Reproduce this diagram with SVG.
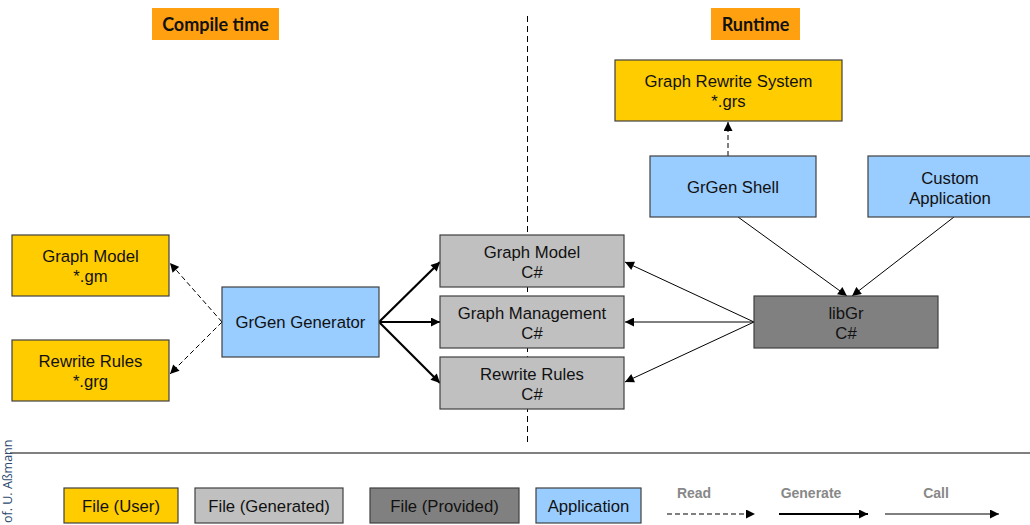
<svg xmlns="http://www.w3.org/2000/svg" width="1030" height="525" viewBox="0 0 1030 525">
<style>
.box{stroke:#404040;stroke-width:1.2}
.user{fill:#FFCC00}
.gen{fill:#C0C0C0}
.prov{fill:#808080}
.app{fill:#99CCFF}
.t{font-family:"Liberation Sans",Arial,sans-serif;font-size:16.7px;fill:#111;text-anchor:middle}
.hdr{font-family:Lato,"Liberation Sans",sans-serif;font-weight:bold;font-size:18px;fill:#111;text-anchor:middle}
.lg{font-family:"Liberation Sans",Arial,sans-serif;font-size:14px;font-weight:bold;fill:#888;text-anchor:middle}
.read{stroke:#000;stroke-width:1;fill:none;stroke-dasharray:5,3}
.gnr{stroke:#000;stroke-width:2.2;fill:none}
.call{stroke:#000;stroke-width:1;fill:none}
</style>
<defs>
<marker id="ah" viewBox="0 0 10 10" refX="10" refY="5" markerWidth="10" markerHeight="9" markerUnits="userSpaceOnUse" orient="auto"><path d="M0,0 L10,5 L0,10 z" fill="#000"/></marker>
</defs>
<rect width="1030" height="525" fill="#fff"/>
<g id="hdr-compile"><rect x="152" y="8" width="127" height="32" fill="#FFA010"/><text class="hdr" x="215.5" y="30.5">Compile time</text></g>
<g id="hdr-runtime"><rect x="711" y="8" width="89" height="32" fill="#FFA010"/><text class="hdr" x="755.5" y="30.5">Runtime</text></g>
<line x1="527.5" y1="16" x2="527.5" y2="446" stroke="#000" stroke-width="1" stroke-dasharray="6,4"/>
<line x1="10" y1="453" x2="1030" y2="453" stroke="#000" stroke-width="1"/>
<text transform="translate(11.5,523) rotate(-90)" font-family="'Open Sans','Liberation Sans',sans-serif" font-size="12.5" fill="#2E4A6E">of. U. Aßmann</text>

<g id="connectors">
<line class="read" x1="728" y1="156" x2="728" y2="122" marker-end="url(#ah)"/>
<line class="read" x1="222" y1="322" x2="170" y2="263" marker-end="url(#ah)"/>
<line class="read" x1="222" y1="322" x2="170" y2="374" marker-end="url(#ah)"/>
<line class="gnr" x1="379" y1="322" x2="440" y2="262" marker-end="url(#ah)"/>
<line class="gnr" x1="379" y1="322" x2="440" y2="322" marker-end="url(#ah)"/>
<line class="gnr" x1="379" y1="322" x2="440" y2="383" marker-end="url(#ah)"/>
<line class="call" x1="754" y1="322" x2="625" y2="262" marker-end="url(#ah)"/>
<line class="call" x1="754" y1="322" x2="625" y2="322" marker-end="url(#ah)"/>
<line class="call" x1="754" y1="322" x2="625" y2="382" marker-end="url(#ah)"/>
<line class="call" x1="738" y1="217" x2="847" y2="296" marker-end="url(#ah)"/>
<line class="call" x1="954" y1="217" x2="852" y2="296" marker-end="url(#ah)"/>
</g>

<g id="grs"><rect class="box user" x="615" y="60" width="227" height="61"/><text class="t" x="728.5" y="87">Graph Rewrite System</text><text class="t" x="728.5" y="107">*.grs</text></g>
<g id="shell"><rect class="box app" x="650" y="156" width="166" height="61"/><text class="t" x="733" y="193">GrGen Shell</text></g>
<g id="custom"><rect class="box app" x="868" y="156" width="164" height="61"/><text class="t" x="950" y="184">Custom</text><text class="t" x="950" y="204">Application</text></g>
<g id="gm-user"><rect class="box user" x="12" y="235" width="157" height="61"/><text class="t" x="90.5" y="262">Graph Model</text><text class="t" x="90.5" y="282">*.gm</text></g>
<g id="rr-user"><rect class="box user" x="12" y="340" width="157" height="61"/><text class="t" x="90.5" y="367">Rewrite Rules</text><text class="t" x="90.5" y="387">*.grg</text></g>
<g id="generator"><rect class="box app" x="222" y="287" width="157" height="70"/><text class="t" x="300.5" y="328">GrGen Generator</text></g>
<g id="gm-cs"><rect class="box gen" x="440" y="235" width="184" height="52"/><text class="t" x="532" y="258">Graph Model</text><text class="t" x="532" y="278">C#</text></g>
<g id="mgmt-cs"><rect class="box gen" x="440" y="296" width="184" height="52"/><text class="t" x="532" y="319">Graph Management</text><text class="t" x="532" y="339">C#</text></g>
<g id="rr-cs"><rect class="box gen" x="440" y="357" width="184" height="52"/><text class="t" x="532" y="380">Rewrite Rules</text><text class="t" x="532" y="400">C#</text></g>
<g id="libgr"><rect class="box prov" x="754" y="296" width="184" height="52"/><text class="t" x="846" y="319">libGr</text><text class="t" x="846" y="339">C#</text></g>

<g id="legend">
<g id="lg-user"><rect class="box user" x="64" y="488" width="114" height="35"/><text class="t" x="121" y="512">File (User)</text></g>
<g id="lg-gen"><rect class="box gen" x="195" y="488" width="148" height="35"/><text class="t" x="269" y="512">File (Generated)</text></g>
<g id="lg-prov"><rect class="box prov" x="370" y="488" width="149" height="35"/><text class="t" x="444.5" y="512">File (Provided)</text></g>
<g id="lg-app"><rect class="box app" x="536" y="488" width="105" height="35"/><text class="t" x="588.5" y="512">Application</text></g>
<text class="lg" x="694" y="498">Read</text>
<line class="read" x1="667" y1="514" x2="755" y2="514" marker-end="url(#ah)"/>
<text class="lg" x="811" y="498">Generate</text>
<line class="gnr" x1="779" y1="514" x2="868" y2="514" marker-end="url(#ah)"/>
<text class="lg" x="936" y="498">Call</text>
<line class="call" x1="885" y1="514" x2="999" y2="514" marker-end="url(#ah)"/>
</g>
</svg>
